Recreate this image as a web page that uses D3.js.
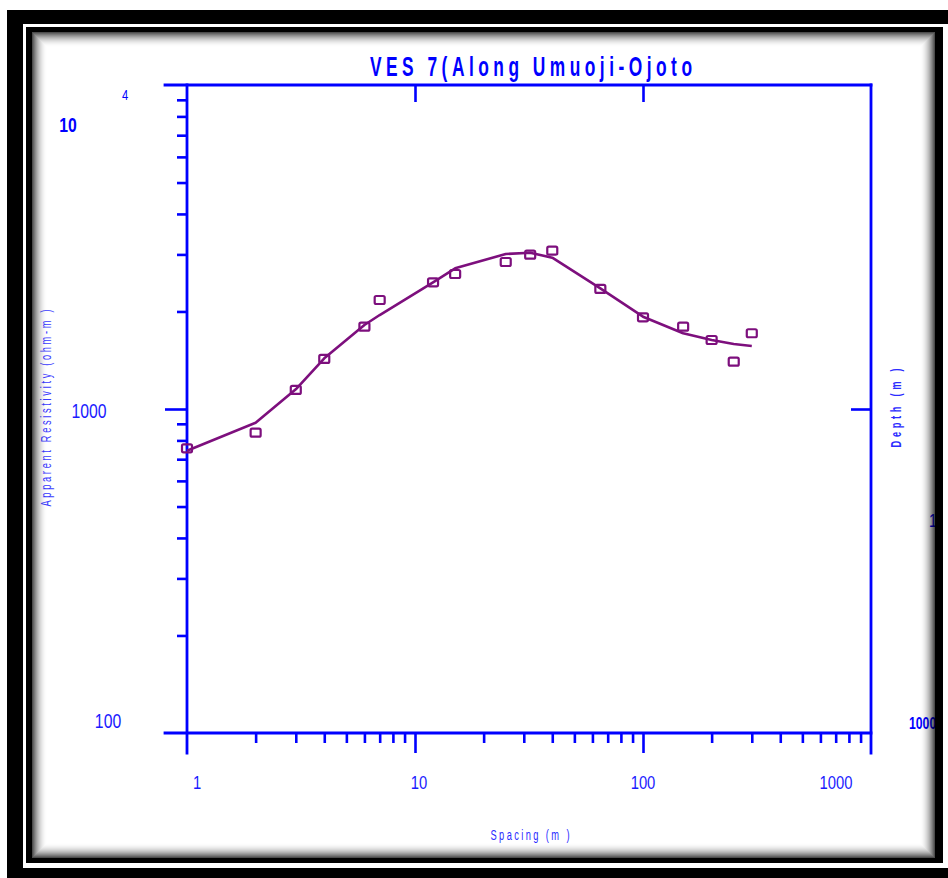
<!DOCTYPE html>
<html>
<head>
<meta charset="utf-8">
<script src="https://cdn.jsdelivr.net/npm/d3@7"></script>
<style>
  html, body { margin: 0; padding: 0; background: #fff; }
  svg { display: block; }
  text { font-family: "Liberation Sans Narrow", "Arial Narrow", "Liberation Sans", sans-serif; }
</style>
</head>
<body>
<svg id="chart" width="948" height="878"></svg>
<script>
// ---- data ----
const spacing = [1, 2, 3, 4, 6, 7, 12, 15, 25, 32, 40, 65, 100, 150, 200, 250, 300];
const resistivity = [756, 845, 1145, 1427, 1795, 2170, 2460, 2610, 2843, 2994, 3080, 2347, 1919, 1795, 1633, 1400, 1713];
const modelSpacing = [1, 2, 3, 4, 6, 7, 12, 15, 25, 32, 40, 65, 100, 150, 200, 250, 300];
const modelResistivity = [743, 907, 1150, 1434, 1817, 1950, 2460, 2718, 3009, 3037, 2931, 2358, 1927, 1713, 1633, 1587, 1565];
const xTickLabels = ["1", "10", "100", "1000"];
const xTickValues = [1, 10, 100, 1000];
const yTickLabels = ["10", "1000", "100"];
const yTickValues = [10000, 1000, 100];
const depthLabels = ["1", "1000"];
const titleText = "VES 7(Along Umuoji-Ojoto";
const xTitle = "Spacing (m )";
const yTitle = "Apparent Resistivity (ohm-m )";
const y2Title = "Depth (m )";

// ---- layout ----
const svg = d3.select("#chart");
const x = d3.scaleLog().domain([1, 1000]).range([187, 871]);
const y = d3.scaleLog().domain([100, 10000]).range([733, 85]);
const blue = "#0000ff";
const purple = "#7d0f7d";

const minorX = [];
[1, 10, 100].forEach(d => { for (let k = 2; k <= 9; k++) minorX.push(d * k); });
const minorY = [];
[100, 1000].forEach(d => { for (let k = 2; k <= 9; k++) minorY.push(d * k); });

function styleAxis(g) {
  g.select(".domain").remove();
  g.selectAll(".tick line").attr("stroke", blue).attr("stroke-width", 2.6);
  g.selectAll(".tick text").remove();
}

// narrow text helper (condensed look via horizontal scale)
function narrow(parent, tx, ty, str, o) {
  const sx = o.sx || 0.78;
  const g = parent.append("g").attr("transform", `translate(${tx},${ty})${o.rotate ? " rotate(" + o.rotate + ")" : ""} scale(${sx},1)`);
  const t = g.append("text").attr("x", 0).attr("y", 0)
    .attr("text-anchor", o.anchor || "middle")
    .attr("font-size", o.size || 14)
    .attr("font-weight", o.weight || "normal")
    .attr("fill", o.fill || blue)
    .text(str);
  if (o.len) t.attr("textLength", o.len / sx).attr("lengthAdjust", "spacing");
  return t;
}

// bottom axis ticks
svg.append("g").attr("transform", "translate(0,733)")
  .call(d3.axisBottom(x).tickValues(minorX).tickSize(10).tickFormat(""))
  .call(styleAxis);
svg.append("g").attr("transform", "translate(0,733)")
  .call(d3.axisBottom(x).tickValues([10, 100]).tickSize(20).tickFormat(""))
  .call(styleAxis);
// top axis ticks (pointing inward)
svg.append("g").attr("transform", "translate(0,85)")
  .call(d3.axisBottom(x).tickValues([10, 100]).tickSize(17).tickFormat(""))
  .call(styleAxis);
// left axis ticks
svg.append("g").attr("transform", "translate(187,0)")
  .call(d3.axisLeft(y).tickValues(minorY).tickSize(10).tickFormat(""))
  .call(styleAxis);
svg.append("g").attr("transform", "translate(187,0)")
  .call(d3.axisLeft(y).tickValues([1000]).tickSize(22).tickFormat(""))
  .call(styleAxis);
// right axis tick (inward)
svg.append("g").attr("transform", "translate(871,0)")
  .call(d3.axisLeft(y).tickValues([1000]).tickSize(20).tickFormat(""))
  .call(styleAxis);

// axis lines
const axisLines = [
  [165, y(10000), x(1000), y(10000)],
  [165, y(100), x(1000), y(100)],
  [x(1), y(10000), x(1), 753],
  [x(1000), y(10000), x(1000), 753]
];
svg.append("g").selectAll("line").data(axisLines).join("line")
  .attr("x1", d => d[0]).attr("y1", d => d[1]).attr("x2", d => d[2]).attr("y2", d => d[3])
  .attr("stroke", blue).attr("stroke-width", 2.8).attr("stroke-linecap", "square");

// x tick labels
const xLabelDx = [10, 4, 0, -35];
xTickLabels.forEach((lab, i) => {
  narrow(svg, x(xTickValues[i]) + xLabelDx[i], 789, lab, { size: 19, fill: "#1a1aff", sx: 0.78 });
});

// y tick labels
const yLabelPos = [[68, 47], [89, 9], [108, -5]];
yTickLabels.forEach((lab, i) => {
  narrow(svg, yLabelPos[i][0], y(yTickValues[i]) + yLabelPos[i][1], lab,
    { size: 21, fill: i === 0 ? blue : "#1a1aff", weight: i === 0 ? "bold" : "normal", sx: 0.75 });
});
narrow(svg, 125, 100, "4", { size: 14, fill: blue, sx: 0.8 });

// title
narrow(svg, 531, 76, titleText, { size: 28, weight: "bold", fill: blue, sx: 0.62, len: 322 });

// axis titles
narrow(svg, 530, 840, xTitle, { size: 15, fill: "#2b2bff", sx: 0.62, len: 79 });
narrow(svg, 51, 408, yTitle, { size: 14, fill: "#3a3aff", sx: 0.66, len: 197, rotate: -90 });
narrow(svg, 901, 408, y2Title, { size: 14, weight: "bold", fill: "#2b2bff", sx: 0.66, len: 79, rotate: -90 });

// depth labels (partially hidden by frame)
narrow(svg, 929, 527, depthLabels[0], { size: 19, fill: blue, anchor: "start", sx: 0.75 });
narrow(svg, 909, 729, depthLabels[1], { size: 17, weight: "bold", fill: blue, anchor: "start", sx: 0.72 });

// model curve
const line = d3.line().x(d => x(d[0])).y(d => y(d[1]));
svg.append("path")
  .datum(modelSpacing.map((s, i) => [s, modelResistivity[i]]))
  .attr("d", line)
  .attr("fill", "none").attr("stroke", purple).attr("stroke-width", 2.6)
  .attr("stroke-linejoin", "round");

// observed points
svg.append("g").selectAll("rect").data(spacing.map((s, i) => [s, resistivity[i]])).join("rect")
  .attr("x", d => x(d[0]) - 5).attr("y", d => y(d[1]) - 4)
  .attr("width", 10).attr("height", 8).attr("rx", 1.5)
  .attr("fill", "none").attr("stroke", purple).attr("stroke-width", 2.2);

// ---- frame overlay ----
const frame = svg.append("g");
frame.append("path")
  .attr("d", "M7,10H960V890H7Z M23,24V868H960V24Z")
  .attr("fill", "#000").attr("fill-rule", "evenodd");
frame.append("path")
  .attr("d", "M26,27H943V863H26Z M32,32V858H935V32Z")
  .attr("fill", "#000").attr("fill-rule", "evenodd");
const shadowSteps = d3.range(0, 15);
frame.selectAll("rect.sh").data(shadowSteps).join("rect")
  .attr("class", "sh")
  .attr("x", d => 32 + d + 0.5).attr("y", d => 32 + d + 0.5)
  .attr("width", d => 935 - 32 - 2 * d - 1).attr("height", d => 858 - 32 - 2 * d - 1)
  .attr("fill", "none").attr("stroke", "#000")
  .attr("stroke-opacity", d => 0.7 * Math.pow(1 - d / 15, 2));
</script>
</body>
</html>
